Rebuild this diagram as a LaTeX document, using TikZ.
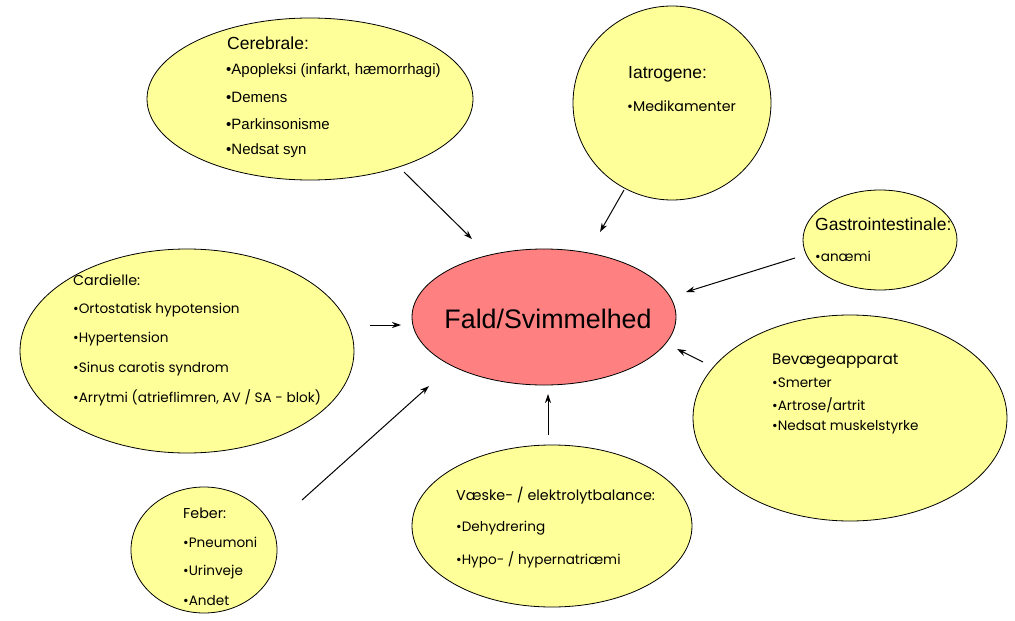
\documentclass[tikz,border=0pt]{standalone}
\usepackage{fontspec}
\setmainfont{Liberation Sans}
\newfontfamily\geo{Poppins}
\usetikzlibrary{shapes.geometric,arrows.meta}
\definecolor{yel}{HTML}{FFFF99}
\definecolor{rosa}{HTML}{FF8080}
\tikzset{
  blob/.style={draw=black, line width=0.8pt, fill=yel, ellipse, inner sep=0pt},
  core/.style={draw=black, line width=0.8pt, fill=rosa, ellipse, inner sep=0pt},
  head/.style={anchor=west, inner sep=0pt, font=\fontsize{17.5}{20}\selectfont},
  item/.style={anchor=west, inner sep=0pt, font=\fontsize{15}{18}\selectfont},
  ghead/.style={anchor=west, inner sep=0pt, font=\geo\fontsize{14.3}{16}\selectfont},
  gitem/.style={anchor=west, inner sep=0pt, font=\geo\fontsize{13.6}{16}\selectfont},
  arr/.style={-{Stealth[length=9pt,width=6pt]}, line width=1pt},
}
\begin{document}
\begin{tikzpicture}[x=1pt,y=-1pt]
\useasboundingbox (0,0) rectangle (1015,621);
% ellipses
\node[blob, minimum width=326pt, minimum height=162pt] (cer) at (310,99) {};
\node[blob, minimum width=198pt, minimum height=194pt] (iat) at (672,103) {};
\node[blob, minimum width=154pt, minimum height=100pt] (gas) at (880,240) {};
\node[blob, minimum width=334pt, minimum height=204pt] (car) at (187,351) {};
\node[core, minimum width=264pt, minimum height=136pt] (fald) at (544,317) {};
\node[blob, minimum width=314pt, minimum height=206pt] (bev) at (850,418) {};
\node[blob, minimum width=280pt, minimum height=162pt] (vae) at (552,526) {};
\node[blob, minimum width=146pt, minimum height=126pt] (feb) at (204,550) {};
% central text
\node[inner sep=0pt, font=\fontsize{26.8}{30}\selectfont] (faldt) at (548,319) {Fald/Svimmelhed};
% Cerebrale
\node[head] (cer0) at (227,43) {Cerebrale:};
\node[item] (cer1) at (226,71) {•Apopleksi (infarkt, hæmorrhagi)};
\node[item] (cer2) at (226,97) {•Demens};
\node[item] (cer3) at (226,124) {•Parkinsonisme};
\node[item] (cer4) at (226,151) {•Nedsat syn};
% Iatrogene
\node[head] (iat0) at (628,74) {Iatrogene:};
\node[gitem, font=\geo\fontsize{14.2}{16}\selectfont] (iat1) at (627,106) {•Medikamenter};
% Gastro
\node[head] (gas0) at (815,224) {Gastrointestinale:};
\node[gitem] (gas1) at (815,256) {•anæmi};
% Cardielle
\node[ghead] (car0) at (73,280) {Cardielle:};
\node[gitem] (car1) at (73,310) {•Ortostatisk hypotension};
\node[gitem] (car2) at (73,339) {•Hypertension};
\node[gitem] (car3) at (73,369) {•Sinus carotis syndrom};
\node[gitem] (car4) at (73,398) {•Arrytmi (atrieflimren, AV / SA - blok)};
% Bevaege
\node[ghead, font=\geo\fontsize{15.2}{17}\selectfont] (bev0) at (772,361) {Bevægeapparat};
\node[gitem] (bev1) at (772,383) {•Smerter};
\node[gitem] (bev2) at (772,405) {•Artrose/artrit};
\node[gitem] (bev3) at (772,427) {•Nedsat muskelstyrke};
% Vaeske
\node[ghead] (vae0) at (456,496) {Væske- / elektrolytbalance:};
\node[gitem] (vae1) at (456,528) {•Dehydrering};
\node[gitem] (vae2) at (456,560) {•Hypo- / hypernatriæmi};
% Feber
\node[ghead] (feb0) at (183,513) {Feber:};
\node[gitem] (feb1) at (183,542) {•Pneumoni};
\node[gitem] (feb2) at (183,572) {•Urinveje};
\node[gitem] (feb3) at (183,601) {•Andet};
% arrow ends
\coordinate (a1s) at (404,172); \coordinate (a1e) at (472,239);
\coordinate (a2s) at (624,190); \coordinate (a2e) at (600,232);
\coordinate (a3s) at (795,258); \coordinate (a3e) at (686,292);
\coordinate (a4s) at (370,325); \coordinate (a4e) at (401,325);
\coordinate (a5s) at (703,362); \coordinate (a5e) at (677,349);
\coordinate (a6s) at (548,435); \coordinate (a6e) at (548,394);
\coordinate (a7s) at (302,500); \coordinate (a7e) at (429,386);
\draw[arr] (a1s) -- (a1e);
\draw[arr] (a2s) -- (a2e);
\draw[arr] (a3s) -- (a3e);
\draw[arr] (a4s) -- (a4e);
\draw[arr] (a5s) -- (a5e);
\draw[arr] (a6s) -- (a6e);
\draw[arr] (a7s) -- (a7e);
\end{tikzpicture}
\end{document}
